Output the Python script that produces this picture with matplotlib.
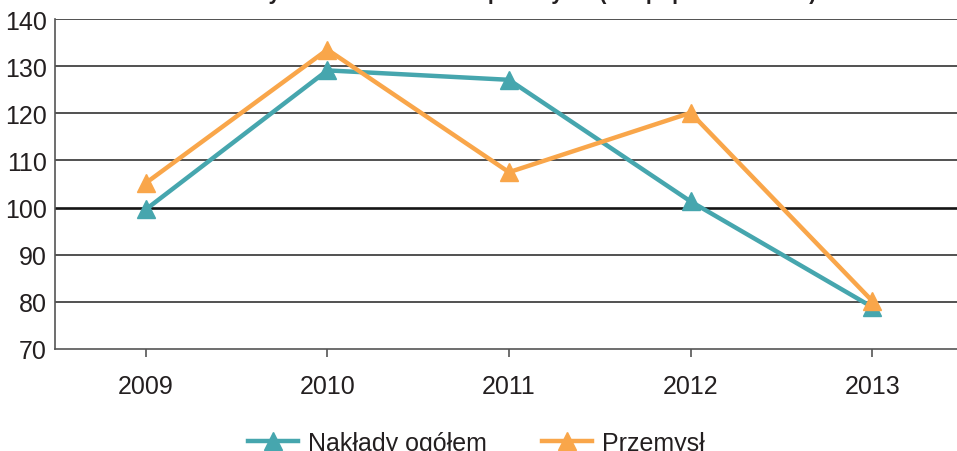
import matplotlib.pyplot as plt
from matplotlib.lines import Line2D

plt.rcParams['font.family'] = ['Liberation Sans', 'DejaVu Sans']

years = ["2009", "2010", "2011", "2012", "2013"]
naklady_ogolem = [99.6, 129.1, 127.1, 101.3, 78.9]
przemysl = [105.2, 133.5, 107.5, 120.1, 80.2]
yticks = [70, 80, 90, 100, 110, 120, 130, 140]

teal = "#46A6AE"
orange = "#F9A64A"

fig = plt.figure(figsize=(9.57, 4.52), dpi=100)
ax = fig.add_axes([55 / 957, 102 / 452, 902 / 957, 330 / 452])

x = range(len(years))
ax.plot(x, naklady_ogolem, color=teal, lw=3.2, marker="^", ms=13, zorder=3, clip_on=False)
ax.plot(x, przemysl, color=orange, lw=3.2, marker="^", ms=13, zorder=4, clip_on=False)

ax.set_ylim(70, 140)
ax.set_xlim(-0.5, 4.5 - 6 / 181.5)
ax.set_yticks(yticks)
ax.set_xticks(list(x))
ax.set_xticklabels(years)

# poziome linie siatki, 100 wyróżnione
for v in yticks[1:]:
    if v == 100:
        ax.axhline(v, color="#151515", lw=1.9, zorder=1)
    else:
        ax.axhline(v, color="#333333", lw=1.2, zorder=1)

for s in ["top", "right"]:
    ax.spines[s].set_visible(False)
ax.spines["left"].set_color("#555555")
ax.spines["left"].set_linewidth(1.2)
ax.spines["bottom"].set_color("#555555")
ax.spines["bottom"].set_linewidth(1.2)

ax.tick_params(axis="y", length=0, pad=6, labelsize=18, labelcolor="#231f20")
ax.tick_params(axis="x", length=6, width=1.2, color="#555555", direction="out",
               pad=12, labelsize=18, labelcolor="#231f20")

# tytuł ucięty u góry - widać tylko dolne końce liter
fig.text(0.559, 1 + 1 / 452, "Dynamika nakładów w przemyśle (rok poprzedni = 100)",
         ha="center", va="baseline", fontsize=15.5, fontweight="bold", color="#231f20")

handles = [Line2D([], [], color=teal, lw=3.2, marker="^", ms=13),
           Line2D([], [], color=orange, lw=3.2, marker="^", ms=13)]
fig.legend(handles, ["Nakłady ogółem", "Przemysł"], loc="center",
           bbox_to_anchor=(476 / 957, 1 - 444 / 452), ncol=2, frameon=False,
           fontsize=18, handlelength=2.0, columnspacing=2.2, handletextpad=0.4,
           labelcolor="#231f20")

fig.savefig("out.png", dpi=100)
